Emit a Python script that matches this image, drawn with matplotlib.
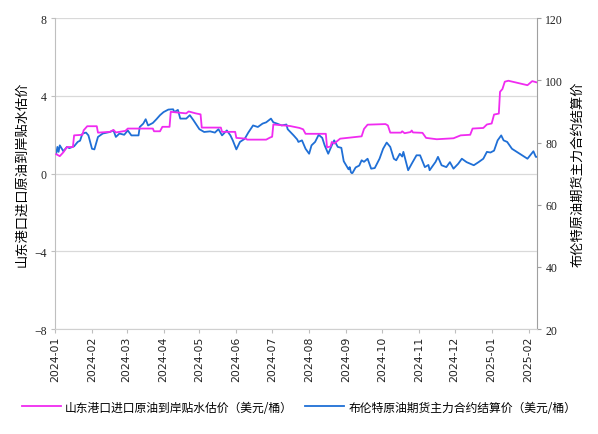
import matplotlib
matplotlib.use("Agg")
import matplotlib.pyplot as plt
import pandas as pd

plt.rcParams['font.family'] = ['Noto Sans CJK SC', 'DejaVu Sans']

# 山东港口进口原油到岸贴水估价 (美元/桶)
premium_dates = [
    "2024-01-02", "2024-01-05", "2024-01-08", "2024-01-11", "2024-01-16", "2024-01-17",
    "2024-01-24", "2024-01-25", "2024-01-28", "2024-02-05", "2024-02-06", "2024-02-16",
    "2024-02-19", "2024-02-21", "2024-02-29", "2024-03-02", "2024-03-23", "2024-03-24",
    "2024-03-29", "2024-03-31", "2024-04-06", "2024-04-07", "2024-04-20", "2024-04-22",
    "2024-04-28", "2024-05-02", "2024-05-03", "2024-05-19", "2024-05-20", "2024-05-31",
    "2024-06-01", "2024-06-09", "2024-06-10", "2024-06-26", "2024-06-29", "2024-07-01",
    "2024-07-02", "2024-07-16", "2024-07-24", "2024-07-27", "2024-07-29", "2024-08-15",
    "2024-08-16", "2024-08-19", "2024-08-20", "2024-08-22", "2024-08-27", "2024-09-14",
    "2024-09-16", "2024-09-19", "2024-10-04", "2024-10-06", "2024-10-08", "2024-10-17",
    "2024-10-18", "2024-10-20", "2024-10-25", "2024-10-26", "2024-10-27", "2024-11-04",
    "2024-11-07", "2024-11-16", "2024-11-30", "2024-12-06", "2024-12-14", "2024-12-16",
    "2024-12-25", "2024-12-28", "2025-01-01", "2025-01-03", "2025-01-07", "2025-01-08",
    "2025-01-10", "2025-01-12", "2025-01-15", "2025-01-31", "2025-02-04", "2025-02-08",
]
premium_values = [
    1.00, 0.90, 1.10, 1.37, 1.37, 1.97,
    2.00, 2.23, 2.44, 2.44, 2.11, 2.15,
    2.25, 2.12, 2.20, 2.32, 2.32, 2.18,
    2.18, 2.41, 2.41, 3.18, 3.10, 3.20,
    3.10, 3.05, 2.37, 2.37, 2.15, 2.15,
    1.84, 1.80, 1.75, 1.75, 1.85, 1.90,
    2.53, 2.45, 2.35, 2.28, 2.05, 2.05,
    1.35, 1.40, 1.63, 1.55, 1.80, 1.92,
    2.30, 2.52, 2.55, 2.48, 2.11, 2.11,
    2.18, 2.08, 2.14, 2.22, 2.12, 2.10,
    1.84, 1.77, 1.82, 1.97, 2.00, 2.32,
    2.35, 2.53, 2.58, 3.04, 3.09, 4.21,
    4.35, 4.73, 4.78, 4.55, 4.76, 4.69,
]

# 布伦特原油期货主力合约结算价 (美元/桶)
brent_dates = [
    "2024-01-02", "2024-01-03", "2024-01-04", "2024-01-05", "2024-01-08", "2024-01-11",
    "2024-01-13", "2024-01-17", "2024-01-20", "2024-01-22", "2024-01-24", "2024-01-27",
    "2024-01-29", "2024-02-01", "2024-02-03", "2024-02-06", "2024-02-10", "2024-02-16",
    "2024-02-19", "2024-02-21", "2024-02-24", "2024-02-28", "2024-03-02", "2024-03-05",
    "2024-03-11", "2024-03-12", "2024-03-15", "2024-03-17", "2024-03-19", "2024-03-23",
    "2024-03-26", "2024-03-29", "2024-04-01", "2024-04-05", "2024-04-09", "2024-04-10",
    "2024-04-13", "2024-04-15", "2024-04-20", "2024-04-23", "2024-04-26", "2024-05-01",
    "2024-05-05", "2024-05-10", "2024-05-14", "2024-05-17", "2024-05-20", "2024-05-24",
    "2024-05-27", "2024-05-29", "2024-06-01", "2024-06-04", "2024-06-08", "2024-06-11",
    "2024-06-15", "2024-06-19", "2024-06-23", "2024-06-26", "2024-06-30", "2024-07-02",
    "2024-07-05", "2024-07-09", "2024-07-13", "2024-07-14", "2024-07-19", "2024-07-22",
    "2024-07-23", "2024-07-26", "2024-07-29", "2024-08-01", "2024-08-03", "2024-08-06",
    "2024-08-09", "2024-08-12", "2024-08-14", "2024-08-17", "2024-08-20", "2024-08-22",
    "2024-08-25", "2024-08-28", "2024-08-30", "2024-09-03", "2024-09-04", "2024-09-05",
    "2024-09-06", "2024-09-09", "2024-09-12", "2024-09-14", "2024-09-16", "2024-09-19",
    "2024-09-22", "2024-09-25", "2024-09-29", "2024-10-02", "2024-10-05", "2024-10-08",
    "2024-10-11", "2024-10-13", "2024-10-16", "2024-10-18", "2024-10-19", "2024-10-20",
    "2024-10-23", "2024-10-26", "2024-10-30", "2024-11-02", "2024-11-06", "2024-11-09",
    "2024-11-10", "2024-11-15", "2024-11-17", "2024-11-20", "2024-11-24", "2024-11-27",
    "2024-11-30", "2024-12-04", "2024-12-07", "2024-12-11", "2024-12-17", "2024-12-21",
    "2024-12-25", "2024-12-28", "2024-12-31", "2025-01-03", "2025-01-06", "2025-01-09",
    "2025-01-11", "2025-01-14", "2025-01-18", "2025-01-31", "2025-02-05", "2025-02-07",
    "2025-02-08",
]
brent_values = [
    76.4, 78.6, 77.0, 79.1, 77.2, 78.6,
    78.2, 78.8, 80.2, 80.6, 82.9, 83.2,
    82.3, 78.0, 77.8, 81.8, 82.9, 83.4,
    83.9, 81.8, 82.9, 82.5, 83.9, 82.3,
    82.3, 85.0, 86.1, 87.5, 85.5, 86.3,
    87.5, 88.8, 89.8, 90.6, 90.7, 89.8,
    90.5, 87.7, 87.7, 88.8, 87.2, 84.3,
    83.4, 83.6, 83.2, 84.3, 82.3, 83.9,
    82.3, 80.7, 77.8, 80.2, 81.2, 83.2,
    85.5, 85.0, 86.1, 86.5, 87.7, 86.5,
    86.1, 85.5, 85.8, 84.3, 82.3, 81.0,
    80.2, 80.7, 78.0, 76.4, 79.1, 80.2,
    82.5, 81.5, 79.1, 76.4, 79.1, 80.7,
    78.6, 78.3, 74.0, 71.4, 72.1, 70.5,
    70.0, 72.0, 72.6, 74.3, 73.8, 74.8,
    71.6, 71.8, 74.8, 78.0, 80.0, 78.6,
    74.8, 74.3, 76.4, 75.5, 77.0, 75.5,
    71.1, 73.2, 75.9, 75.9, 72.1, 72.8,
    71.1, 73.8, 75.4, 72.7, 72.1, 73.7,
    71.6, 73.2, 74.8, 73.7, 72.7, 73.7,
    74.8, 77.0, 76.8, 77.4, 80.7, 82.3,
    80.7, 80.2, 78.0, 74.8, 77.2, 75.4,
    75.4,
]

month_ticks = ["2024-01", "2024-02", "2024-03", "2024-04", "2024-05", "2024-06", "2024-07",
               "2024-08", "2024-09", "2024-10", "2024-11", "2024-12", "2025-01", "2025-02"]
left_ticks = [-8, -4, 0, 4, 8]
right_ticks = [20, 40, 60, 80, 100, 120]

label_left = "山东港口进口原油到岸贴水估价"
label_right = "布伦特原油期货主力合约结算价"
legend_left = "山东港口进口原油到岸贴水估价（美元/桶）"
legend_right = "布伦特原油期货主力合约结算价（美元/桶）"

pink = "#F02BF0"
blue = "#1F6FD6"
grid_c = "#D9D9D9"

fig = plt.figure(figsize=(5.98, 4.35), dpi=100)
ax = fig.add_axes([0.092, 0.241, 0.806, 0.715])
ax2 = ax.twinx()

pd_dates = pd.to_datetime(premium_dates)
bd_dates = pd.to_datetime(brent_dates)

l1, = ax.plot(pd_dates, premium_values, color=pink, lw=1.3, label=legend_left, zorder=3)
l2, = ax2.plot(bd_dates, brent_values, color=blue, lw=1.3, label=legend_right, zorder=3)

ax.set_zorder(ax2.get_zorder() + 1)
ax.patch.set_visible(False)

ax.set_xlim(pd.Timestamp("2024-01-01"), pd.Timestamp("2025-02-08"))
ax.set_ylim(-8, 8)
ax2.set_ylim(20, 120)
ax.set_yticks(left_ticks)
ax2.set_yticks(right_ticks)
ax.set_xticks(pd.to_datetime(month_ticks))
ax.set_xticklabels(month_ticks, rotation=90, fontsize=7.8, family=['DejaVu Sans'])
for lab in ax.get_yticklabels():
    lab.set_fontsize(8.5)
    lab.set_family(['Liberation Serif', 'DejaVu Sans'])
for lab in ax2.get_yticklabels():
    lab.set_fontsize(8.5)
    lab.set_family(['Liberation Serif', 'DejaVu Sans'])

ax.grid(axis='y', color=grid_c, lw=0.9)
ax.set_axisbelow(True)

for a in (ax, ax2):
    a.spines['top'].set_visible(False)
ax.spines['left'].set_color("#BFBFBF")
ax.spines['bottom'].set_color("#D0D0D0")
ax.spines['right'].set_visible(False)
ax2.spines['left'].set_visible(False)
ax2.spines['bottom'].set_visible(False)
ax2.spines['right'].set_color("#A0A0A0")
ax.tick_params(axis='y', length=3, color="#BFBFBF", pad=3, labelcolor="#222222")
ax.tick_params(axis='x', length=3, color="#BFBFBF", pad=2, labelcolor="#222222")
ax2.tick_params(axis='y', length=3, color="#A0A0A0", pad=3, labelcolor="#222222")

ax.set_ylabel(label_left, fontsize=9.5, labelpad=4)
ax2.set_ylabel(label_right, fontsize=9.5, rotation=90, labelpad=6)

fig.legend([l1, l2], [legend_left, legend_right], loc='center', bbox_to_anchor=(0.5, 0.062),
           ncol=2, frameon=False, fontsize=8.5, handlelength=3.3, columnspacing=1.0,
           handletextpad=0.4)

fig.savefig("out.png", dpi=100)
